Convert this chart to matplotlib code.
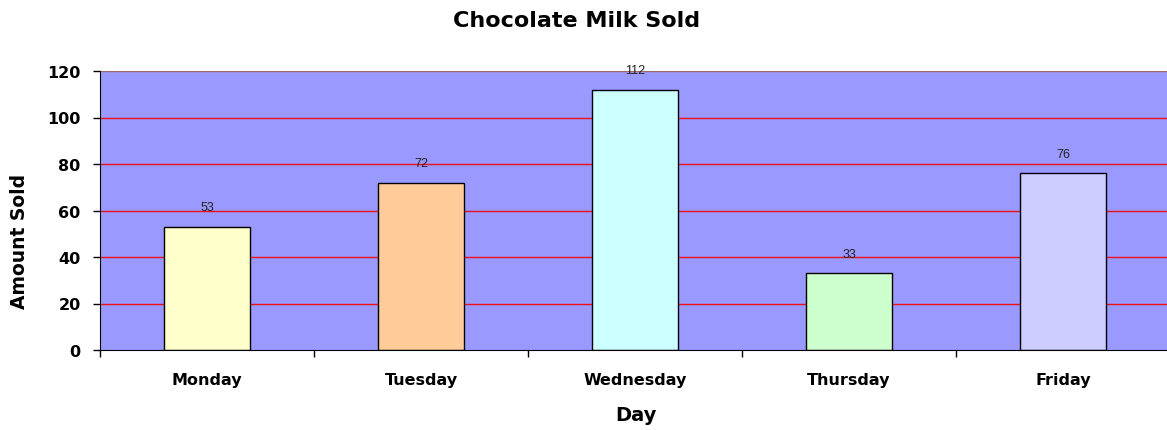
import numpy as np
import matplotlib.pyplot as plt
from matplotlib.ticker import FixedLocator

days = ['Monday', 'Tuesday', 'Wednesday', 'Thursday', 'Friday']
sold = [53, 72, 112, 33, 76]
bar_colors = ['#FFFFCC', '#FFCC99', '#CCFFFF', '#CCFFCC', '#CCCCFF']
y_ticks = [0, 20, 40, 60, 80, 100, 120]

plt.rcParams['font.family'] = 'DejaVu Sans'

fig = plt.figure(figsize=(11.67, 4.31), dpi=100)
ax = fig.add_axes([100 / 1167, 1 - 351 / 431, 1070 / 1167, 279 / 431])
ax.set_facecolor('#9999FF')

x = np.arange(len(days))
ax.set_xlim(-0.5, len(days) - 0.5)
ax.set_ylim(0, 120)

# horizontal grid lines
for v in y_ticks[1:]:
    ax.axhline(v, color='#a06868' if v == 120 else '#ee1111', lw=1, zorder=1)

bars = ax.bar(x, sold, width=0.4, color=bar_colors, edgecolor='black',
              linewidth=1, zorder=2)
for b, v in zip(bars, sold):
    ax.annotate(str(v), (b.get_x() + b.get_width() / 2, v),
                xytext=(0, 14), textcoords='offset points',
                ha='center', va='center', fontsize=9, color='#222222',
                family='Liberation Sans', zorder=3)

for side in ['top', 'right']:
    ax.spines[side].set_visible(False)
ax.spines['left'].set_color('black')
ax.spines['bottom'].set_color('black')

ax.set_yticks(y_ticks)
ax.set_yticklabels([str(v) for v in y_ticks], fontsize=11.5, fontweight='bold')
ax.tick_params(axis='y', length=5, width=1, pad=9)

ax.set_xticks(x)
ax.set_xticklabels(days, fontsize=11.5, fontweight='bold')
ax.tick_params(axis='x', which='major', length=0, pad=16)
ax.xaxis.set_minor_locator(FixedLocator(np.arange(-0.5, len(days), 1.0)))
ax.tick_params(axis='x', which='minor', length=5, width=1)

ax.set_xlabel('Day', fontsize=14, fontweight='bold')
ax.set_ylabel('Amount Sold', fontsize=13.5, fontweight='bold')
ax.xaxis.set_label_coords((636 - 100) / 1070, -(416 - 351) / 279)
ax.yaxis.set_label_coords(-(100 - 20) / 1070, (351 - 241) / 279)
ax.xaxis.label.set_va('center')
ax.yaxis.label.set_va('center')
fig.suptitle('Chocolate Milk Sold', x=577 / 1167, y=1 - 21 / 431,
             va='center', fontsize=16, fontweight='bold')

fig.savefig('out.png', dpi=100)
